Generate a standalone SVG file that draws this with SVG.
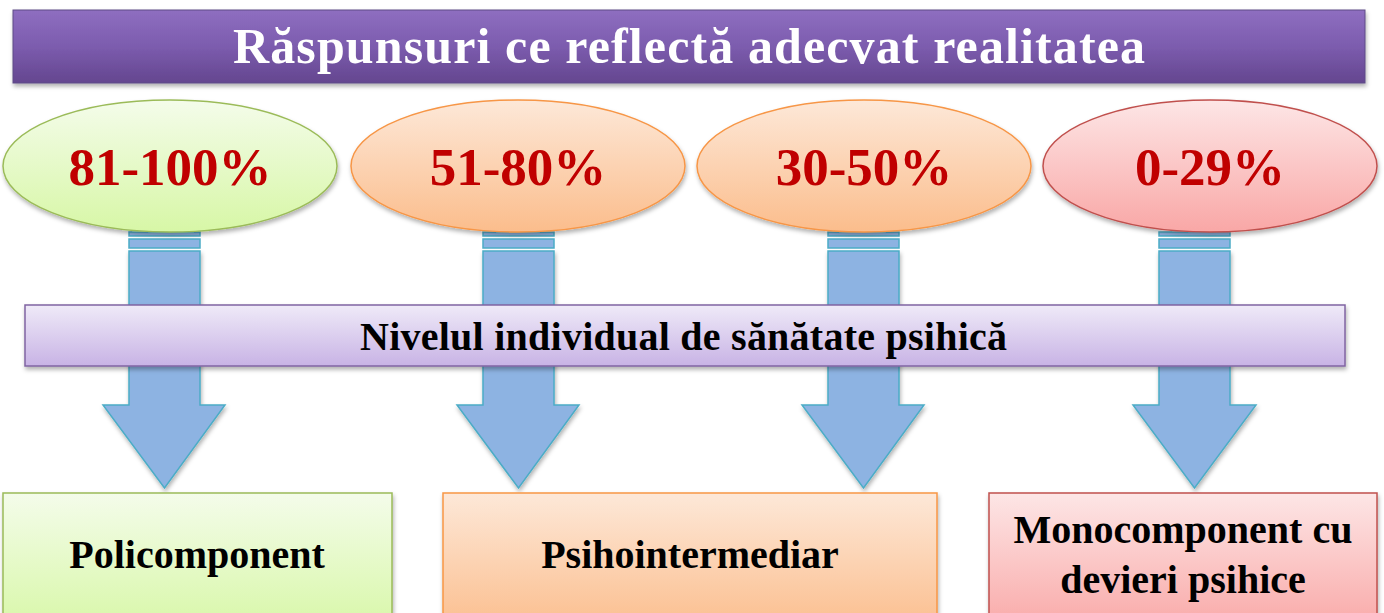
<svg xmlns="http://www.w3.org/2000/svg" width="1384" height="613" viewBox="0 0 1384 613">
<defs>
<linearGradient id="gTitle" x1="0" y1="0" x2="0" y2="1"><stop offset="0" stop-color="#8E6EC0"/><stop offset="0.5" stop-color="#7C5CAE"/><stop offset="1" stop-color="#64468F"/></linearGradient>
<linearGradient id="gGreen" x1="0" y1="0" x2="0" y2="1"><stop offset="0" stop-color="#F4FCEA"/><stop offset="1" stop-color="#D7F7A6"/></linearGradient>
<linearGradient id="gOrange" x1="0" y1="0" x2="0" y2="1"><stop offset="0" stop-color="#FDE8D8"/><stop offset="1" stop-color="#FBBD8C"/></linearGradient>
<linearGradient id="gRed" x1="0" y1="0" x2="0" y2="1"><stop offset="0" stop-color="#FDE6E6"/><stop offset="1" stop-color="#F9A7A6"/></linearGradient>
<linearGradient id="gBar" x1="0" y1="0" x2="0" y2="1"><stop offset="0" stop-color="#EFEAF8"/><stop offset="1" stop-color="#C8B3E5"/></linearGradient>
<filter id="sh" x="-5%" y="-10%" width="110%" height="130%"><feDropShadow dx="1" dy="3" stdDeviation="2" flood-color="#000" flood-opacity="0.3"/></filter>
</defs>
<style>
.title{font-family:"Liberation Serif","Times New Roman",serif;font-weight:bold;font-size:50px;fill:#FFFFFF;text-anchor:middle}
.pct{font-family:"Liberation Serif","Times New Roman",serif;font-weight:bold;font-size:53px;fill:#C00000;text-anchor:middle}
.lbl{font-family:"Liberation Serif","Times New Roman",serif;font-weight:bold;font-size:40px;fill:#000;text-anchor:middle}
.bar{font-family:"Liberation Serif","Times New Roman",serif;font-weight:bold;font-size:40px;fill:#000;text-anchor:middle}
.arrow{fill:#8DB3E2;stroke:#4BACC6;stroke-width:1.5}
.green{fill:url(#gGreen);stroke:#9BBB59;stroke-width:1.5}
.orange{fill:url(#gOrange);stroke:#F79646;stroke-width:1.5}
.red{fill:url(#gRed);stroke:#C0504D;stroke-width:1.5}
</style>
<g id="title">
<rect x="13" y="10" width="1352" height="73" fill="url(#gTitle)" stroke="#5F4A86" stroke-width="1" filter="url(#sh)"/>
<text class="title" x="689" y="63" textLength="912" lengthAdjust="spacing">Răspunsuri ce reflectă adecvat realitatea</text>
</g>
<g id="connectors">
<g>
<rect class="arrow" x="129" y="232" width="71" height="4"/>
<rect class="arrow" x="129" y="239" width="71" height="9"/>
<path class="arrow" d="M129 251 H200 V405 H225 L164.5 488 L103 405 H129 Z" filter="url(#sh)"/>
</g>
<g>
<rect class="arrow" x="483" y="232" width="71" height="4"/>
<rect class="arrow" x="483" y="239" width="71" height="9"/>
<path class="arrow" d="M483 251 H554 V405 H579 L518.5 488 L457 405 H483 Z" filter="url(#sh)"/>
</g>
<g>
<rect class="arrow" x="828" y="232" width="71" height="4"/>
<rect class="arrow" x="828" y="239" width="71" height="9"/>
<path class="arrow" d="M828 251 H899 V405 H924 L863.5 488 L802 405 H828 Z" filter="url(#sh)"/>
</g>
<g>
<rect class="arrow" x="1159" y="232" width="71" height="4"/>
<rect class="arrow" x="1159" y="239" width="71" height="9"/>
<path class="arrow" d="M1159 251 H1230 V405 H1256 L1194.5 488 L1133 405 H1159 Z" filter="url(#sh)"/>
</g>
</g>
<g id="e1">
<ellipse class="green" cx="170" cy="166" rx="167" ry="66" filter="url(#sh)"/>
<text class="pct" x="170" y="185">81-100%</text>
</g>
<g id="e2">
<ellipse class="orange" cx="518" cy="166" rx="167" ry="66" filter="url(#sh)"/>
<text class="pct" x="518" y="185">51-80%</text>
</g>
<g id="e3">
<ellipse class="orange" cx="864" cy="166" rx="167" ry="66" filter="url(#sh)"/>
<text class="pct" x="864" y="185">30-50%</text>
</g>
<g id="e4">
<ellipse class="red" cx="1210" cy="166" rx="167" ry="66" filter="url(#sh)"/>
<text class="pct" x="1210" y="185">0-29%</text>
</g>
<g id="level">
<rect x="25" y="305" width="1320" height="61" fill="url(#gBar)" stroke="#8064A2" stroke-width="1.5" filter="url(#sh)"/>
<text class="bar" x="683.5" y="350" textLength="647" lengthAdjust="spacing">Nivelul individual de sănătate psihică</text>
</g>
<g id="b1">
<rect class="green" x="3" y="493" width="389" height="140" filter="url(#sh)"/>
<text class="lbl" x="197" y="568">Policomponent</text>
</g>
<g id="b2">
<rect class="orange" x="443" y="493" width="494" height="140" filter="url(#sh)"/>
<text class="lbl" x="690" y="568">Psihointermediar</text>
</g>
<g id="b3">
<rect class="red" x="989" y="493" width="388" height="140" filter="url(#sh)"/>
<text class="lbl" x="1183" y="543">Monocomponent cu</text>
<text class="lbl" x="1183" y="593">devieri psihice</text>
</g>
</svg>
